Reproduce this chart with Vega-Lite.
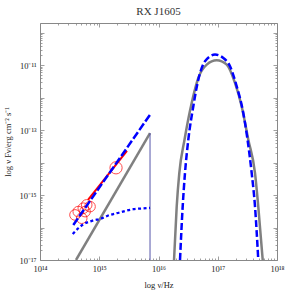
{
  "$schema": "https://vega.github.io/schema/vega-lite/v6.json",
  "width": 237,
  "height": 237,
  "autosize": "none",
  "padding": {"left": 40, "top": 23, "right": 8, "bottom": 31},
  "background": "white",
  "config": {
    "view": {"stroke": "#888888", "strokeWidth": 1},
    "font": "Liberation Serif"
  },
  "title": {"text": "RX J1605", "font": "Liberation Serif", "fontSize": 11, "fontWeight": 400, "color": "#333333", "offset": 6},
  "datasets": {
    "gray_pl": [{"x": 4.055e14, "y": 1e-17}, {"x": 7.194e15, "y": 8.147e-14}],
    "blue_pl": [{"x": 3.648e14, "y": 1.202e-16}, {"x": 7.194e15, "y": 2.985e-13}],
    "blue_dot": [
      {"x": 3.565e14, "y": 6.34e-17}, {"x": 4.426e14, "y": 9.51e-17}, {"x": 5.383e14, "y": 1.247e-16},
      {"x": 7.943e14, "y": 1.656e-16}, {"x": 1.03e15, "y": 1.841e-16}, {"x": 1.517e15, "y": 2.449e-16},
      {"x": 1.972e15, "y": 2.761e-16}, {"x": 3.758e15, "y": 3.673e-16}, {"x": 6.324e15, "y": 3.945e-16},
      {"x": 7.194e15, "y": 4.027e-16}
    ],
    "cutoff": [{"x": 7.194e15, "y": 1e-17, "y2": 8.147e-14}],
    "red_pts": [
      {"x": 3.899e14, "y": 2.449e-16, "r": 113}, {"x": 4.426e14, "y": 3.097e-16, "r": 113},
      {"x": 5.383e14, "y": 3.945e-16, "r": 113}, {"x": 6.138e14, "y": 4.989e-16, "r": 113},
      {"x": 6.982e14, "y": 4.416e-16, "r": 113}, {"x": 5.754e14, "y": 3.097e-16, "r": 113},
      {"x": 5.058e14, "y": 1.936e-16, "r": 113}, {"x": 1.919e15, "y": 6.918e-15, "r": 150}
    ],
    "red_line": [{"x": 6.457e14, "y": 7.11e-16}, {"x": 2.938e15, "y": 2.312e-14}],
    "blue_peak": [
      {"x": 2.307e16, "y": 1e-17}, {"x": 2.559e16, "y": 4.416e-16}, {"x": 2.799e16, "y": 4.742e-15},
      {"x": 3.184e16, "y": 5.058e-14}, {"x": 3.864e16, "y": 5.383e-13}, {"x": 4.699e16, "y": 3.597e-12},
      {"x": 6.095e16, "y": 1.318e-11}, {"x": 8.995e16, "y": 2.123e-11}, {"x": 1.242e17, "y": 1.679e-11},
      {"x": 1.611e17, "y": 9.247e-12}, {"x": 2.089e17, "y": 2.234e-12}, {"x": 2.698e17, "y": 3.373e-13},
      {"x": 3.155e17, "y": 5.702e-14}, {"x": 3.741e17, "y": 4.742e-15}, {"x": 4.256e17, "y": 4.416e-16},
      {"x": 4.831e17, "y": 1e-17}
    ],
    "gray_peak": [
      {"x": 1.828e16, "y": 1e-17}, {"x": 2.028e16, "y": 4.416e-16}, {"x": 2.244e16, "y": 4.742e-15},
      {"x": 2.748e16, "y": 5.058e-14}, {"x": 3.631e16, "y": 6.855e-13}, {"x": 4.699e16, "y": 4.055e-12},
      {"x": 6.516e16, "y": 1.045e-11}, {"x": 9.594e16, "y": 1.416e-11}, {"x": 1.416e17, "y": 1.045e-11},
      {"x": 1.954e17, "y": 2.844e-12}, {"x": 2.535e17, "y": 5.383e-13}, {"x": 3.281e17, "y": 5.058e-14},
      {"x": 4.256e17, "y": 4.742e-15}, {"x": 4.831e17, "y": 4.416e-16}, {"x": 5.741e17, "y": 1e-17}
    ]
  },
  "resolve": {"axis": {"x": "independent", "y": "independent"}},
  "layer": [
    {
      "data": {"name": "gray_pl"},
      "mark": {"type": "line", "color": "#808080", "strokeWidth": 2.5, "clip": true},
      "encoding": {
        "x": {"field": "x", "type": "quantitative",
          "scale": {"type": "log", "domain": [1e14, 1e18], "nice": false},
          "axis": {
            "orient": "bottom",
            "title": "log ν/Hz", "titleFont": "Liberation Serif", "titleFontSize": 8.5, "titleFontWeight": "normal", "titleColor": "#222222", "titlePadding": 6,
            "values": [1e14,2e14,3e14,4e14,5e14,6e14,7e14,8e14,9e14,1e15,2e15,3e15,4e15,5e15,6e15,7e15,8e15,9e15,1e16,2e16,3e16,4e16,5e16,6e16,7e16,8e16,9e16,1e17,2e17,3e17,4e17,5e17,6e17,7e17,8e17,9e17,1e18],
            "labelExpr": "datum.value==1e14?'10¹⁴':datum.value==1e15?'10¹⁵':datum.value==1e16?'10¹⁶':datum.value==1e17?'10¹⁷':datum.value==1e18?'10¹⁸':''",
            "labelFont": "Liberation Serif", "labelFontSize": 8.5, "labelColor": "#222222", "labelOverlap": false, "labelFlush": false, "labelPadding": 8,
            "domain": false, "grid": false,
            "tickColor": "#888888", "tickWidth": 0.8,
            "tickSize": {"condition": {"test": "indexof([1e14,1e15,1e16,1e17,1e18], datum.value) >= 0", "value": -4}, "value": -2}
          }
        },
        "y": {"field": "y", "type": "quantitative",
          "scale": {"type": "log", "domain": [1e-17, 2e-10], "nice": false},
          "axis": {
            "orient": "left",
            "title": "log ν Fν/erg cm⁻² s⁻¹", "titleFont": "Liberation Serif", "titleFontSize": 8.5, "titleFontWeight": "normal", "titleColor": "#222222", "titlePadding": 6,
            "values": [1e-17,2e-17,3e-17,4e-17,5e-17,6e-17,7e-17,8e-17,9e-17,1e-16,2e-16,3e-16,4e-16,5e-16,6e-16,7e-16,8e-16,9e-16,1e-15,2e-15,3e-15,4e-15,5e-15,6e-15,7e-15,8e-15,9e-15,1e-14,2e-14,3e-14,4e-14,5e-14,6e-14,7e-14,8e-14,9e-14,1e-13,2e-13,3e-13,4e-13,5e-13,6e-13,7e-13,8e-13,9e-13,1e-12,2e-12,3e-12,4e-12,5e-12,6e-12,7e-12,8e-12,9e-12,1e-11,2e-11,3e-11,4e-11,5e-11,6e-11,7e-11,8e-11,9e-11,1e-10],
            "labelExpr": "datum.value==1e-17?'10⁻¹⁷':datum.value==1e-15?'10⁻¹⁵':datum.value==1e-13?'10⁻¹³':datum.value==1e-11?'10⁻¹¹':''",
            "labelFont": "Liberation Serif", "labelFontSize": 8.5, "labelColor": "#222222", "labelOverlap": false, "labelFlush": false, "labelPadding": 8,
            "domain": false, "grid": false,
            "tickColor": "#888888", "tickWidth": 0.8,
            "tickSize": {"condition": {"test": "indexof([1e-17,1e-16,1e-15,1e-14,1e-13,1e-12,1e-11,1e-10], datum.value) >= 0", "value": -4}, "value": -2}
          }
        }
      }
    },
    {
      "data": {"name": "gray_peak"},
      "mark": {"type": "line", "color": "#808080", "strokeWidth": 2.5, "interpolate": "monotone", "clip": true},
      "encoding": {
        "x": {"field": "x", "type": "quantitative", "scale": {"type": "log", "domain": [1e14, 1e18], "nice": false},
          "axis": {
            "orient": "top", "title": null, "labels": false, "domain": false, "grid": false,
            "values": [1e14,2e14,3e14,4e14,5e14,6e14,7e14,8e14,9e14,1e15,2e15,3e15,4e15,5e15,6e15,7e15,8e15,9e15,1e16,2e16,3e16,4e16,5e16,6e16,7e16,8e16,9e16,1e17,2e17,3e17,4e17,5e17,6e17,7e17,8e17,9e17,1e18],
            "tickColor": "#888888", "tickWidth": 0.8,
            "tickSize": {"condition": {"test": "indexof([1e14,1e15,1e16,1e17,1e18], datum.value) >= 0", "value": -4}, "value": -2}
          }
        },
        "y": {"field": "y", "type": "quantitative", "scale": {"type": "log", "domain": [1e-17, 2e-10], "nice": false},
          "axis": {
            "orient": "right", "title": null, "labels": false, "domain": false, "grid": false,
            "values": [1e-17,2e-17,3e-17,4e-17,5e-17,6e-17,7e-17,8e-17,9e-17,1e-16,2e-16,3e-16,4e-16,5e-16,6e-16,7e-16,8e-16,9e-16,1e-15,2e-15,3e-15,4e-15,5e-15,6e-15,7e-15,8e-15,9e-15,1e-14,2e-14,3e-14,4e-14,5e-14,6e-14,7e-14,8e-14,9e-14,1e-13,2e-13,3e-13,4e-13,5e-13,6e-13,7e-13,8e-13,9e-13,1e-12,2e-12,3e-12,4e-12,5e-12,6e-12,7e-12,8e-12,9e-12,1e-11,2e-11,3e-11,4e-11,5e-11,6e-11,7e-11,8e-11,9e-11,1e-10],
            "tickColor": "#888888", "tickWidth": 0.8,
            "tickSize": {"condition": {"test": "indexof([1e-17,1e-16,1e-15,1e-14,1e-13,1e-12,1e-11,1e-10], datum.value) >= 0", "value": -4}, "value": -2}
          }
        }
      }
    },
    {
      "data": {"name": "cutoff"},
      "mark": {"type": "rule", "color": "#5555aa", "strokeWidth": 1},
      "encoding": {
        "x": {"field": "x", "type": "quantitative", "axis": null},
        "y": {"field": "y", "type": "quantitative", "axis": null},
        "y2": {"field": "y2"}
      }
    },
    {
      "data": {"name": "red_pts"},
      "mark": {"type": "point", "shape": "circle", "filled": false, "color": "#ff0000", "strokeWidth": 1},
      "encoding": {
        "x": {"field": "x", "type": "quantitative", "axis": null},
        "y": {"field": "y", "type": "quantitative", "axis": null},
        "size": {"field": "r", "type": "quantitative", "scale": null, "legend": null}
      }
    },
    {
      "data": {"name": "red_line"},
      "mark": {"type": "line", "color": "#ff0000", "strokeWidth": 2},
      "encoding": {
        "x": {"field": "x", "type": "quantitative", "axis": null},
        "y": {"field": "y", "type": "quantitative", "axis": null}
      }
    },
    {
      "data": {"name": "blue_dot"},
      "mark": {"type": "line", "color": "#0000ff", "strokeWidth": 2.3, "strokeDash": [3, 2.5], "interpolate": "monotone"},
      "encoding": {
        "x": {"field": "x", "type": "quantitative", "axis": null},
        "y": {"field": "y", "type": "quantitative", "axis": null}
      }
    },
    {
      "data": {"name": "blue_pl"},
      "mark": {"type": "line", "color": "#0000ff", "strokeWidth": 2.5, "strokeDash": [8, 2.5]},
      "encoding": {
        "x": {"field": "x", "type": "quantitative", "axis": null},
        "y": {"field": "y", "type": "quantitative", "axis": null}
      }
    },
    {
      "data": {"name": "blue_peak"},
      "mark": {"type": "line", "color": "#0000ff", "strokeWidth": 2.5, "strokeDash": [7, 3], "interpolate": "monotone", "clip": true},
      "encoding": {
        "x": {"field": "x", "type": "quantitative", "axis": null},
        "y": {"field": "y", "type": "quantitative", "axis": null}
      }
    }
  ]
}
